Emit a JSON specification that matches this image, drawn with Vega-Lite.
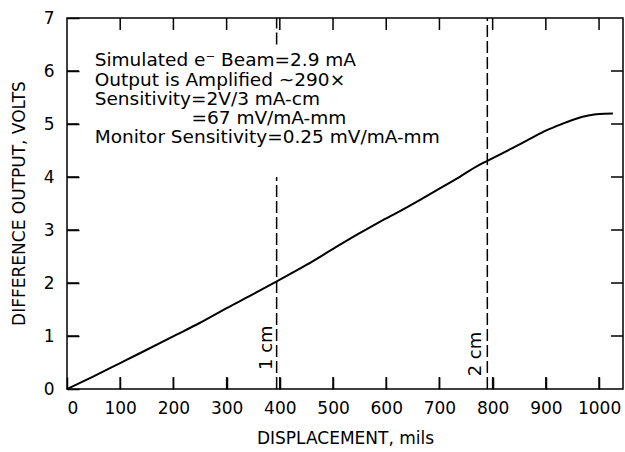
{
  "$schema": "https://vega.github.io/schema/vega-lite/v6.json",
  "width": 556,
  "height": 371,
  "autosize": "none",
  "padding": {"left": 67, "top": 18, "right": 2, "bottom": 63},
  "config": {
    "font": "DejaVu Sans",
    "view": {"stroke": "black", "strokeWidth": 1.5},
    "axis": {
      "grid": false,
      "domain": false,
      "offset": -12,
      "tickColor": "black",
      "tickSize": 12,
      "tickWidth": 1.5,
      "labelColor": "black",
      "labelFontSize": 17,
      "titleColor": "black",
      "titleFontSize": 17,
      "titleFontWeight": "normal"
    }
  },
  "datasets": {
    "curve": [
      {"x": 0, "y": 0},
      {"x": 50, "y": 0.24},
      {"x": 100, "y": 0.49},
      {"x": 136, "y": 0.67},
      {"x": 205, "y": 1.02},
      {"x": 250, "y": 1.25},
      {"x": 299, "y": 1.52},
      {"x": 350, "y": 1.79},
      {"x": 396, "y": 2.04},
      {"x": 450, "y": 2.34},
      {"x": 506, "y": 2.68},
      {"x": 550, "y": 2.94},
      {"x": 587, "y": 3.15},
      {"x": 630, "y": 3.38},
      {"x": 662, "y": 3.56},
      {"x": 700, "y": 3.78},
      {"x": 731, "y": 3.96},
      {"x": 775, "y": 4.23},
      {"x": 791, "y": 4.31},
      {"x": 838, "y": 4.55},
      {"x": 870, "y": 4.72},
      {"x": 901, "y": 4.88},
      {"x": 930, "y": 5.0},
      {"x": 957, "y": 5.1},
      {"x": 980, "y": 5.16},
      {"x": 1000, "y": 5.19},
      {"x": 1026, "y": 5.2}
    ],
    "rules": [
      {"x": 394, "y": 6.5, "y2": 7},
      {"x": 394, "y": 0, "y2": 4.0},
      {"x": 790, "y": 0, "y2": 7}
    ],
    "notes": [
      {"x": 52, "y": 6.21, "text": "Simulated e⁻ Beam=2.9 mA"},
      {"x": 52, "y": 5.83, "text": "Output is Amplified ~290×"},
      {"x": 52, "y": 5.47, "text": "Sensitivity=2V/3 mA-cm"},
      {"x": 234, "y": 5.11, "text": "=67 mV/mA-mm"},
      {"x": 52, "y": 4.75, "text": "Monitor Sensitivity=0.25 mV/mA-mm"}
    ],
    "marks": [
      {"x": 375, "y": 0.78, "text": "1 cm"},
      {"x": 768, "y": 0.66, "text": "2 cm"}
    ],
    "xt": [{"v": 100}, {"v": 200}, {"v": 300}, {"v": 400}, {"v": 500}, {"v": 600}, {"v": 700}, {"v": 800}, {"v": 900}, {"v": 1000}],
    "yt": [{"v": 1}, {"v": 2}, {"v": 3}, {"v": 4}, {"v": 5}, {"v": 6}]
  },
  "layer": [
    {
      "data": {"name": "curve"},
      "mark": {"type": "line", "color": "black", "strokeWidth": 2, "interpolate": "monotone"},
      "encoding": {
        "x": {
          "field": "x", "type": "quantitative",
          "scale": {"domain": [0, 1045], "nice": false},
          "axis": {
            "orient": "bottom",
            "values": [0, 100, 200, 300, 400, 500, 600, 700, 800, 900, 1000],
            "format": "d",
            "labelPadding": 19,
            "labelBaseline": "middle",
            "title": "DISPLACEMENT, mils",
            "titleX": 278,
            "titleY": 61,
            "titleBaseline": "middle",
            "titleAlign": "center"
          }
        },
        "y": {
          "field": "y", "type": "quantitative",
          "scale": {"domain": [0, 7], "nice": false},
          "axis": {
            "orient": "left",
            "values": [0, 1, 2, 3, 4, 5, 6, 7],
            "labelPadding": 13,
            "title": "DIFFERENCE OUTPUT, VOLTS",
            "titleX": -60,
            "titleY": 185,
            "titleAngle": 270,
            "titleBaseline": "middle",
            "titleAlign": "center"
          }
        }
      }
    },
    {
      "data": {"name": "rules"},
      "mark": {"type": "rule", "color": "black", "strokeWidth": 1.5, "strokeDash": [12, 4]},
      "encoding": {
        "x": {"field": "x", "type": "quantitative", "scale": {"domain": [0, 1045], "nice": false}, "axis": null},
        "y": {"field": "y", "type": "quantitative", "scale": {"domain": [0, 7], "nice": false}, "axis": null},
        "y2": {"field": "y2"}
      }
    },
    {
      "data": {"name": "xt"},
      "mark": {"type": "rule", "color": "black", "strokeWidth": 1.5},
      "encoding": {
        "x": {"field": "v", "type": "quantitative", "scale": {"domain": [0, 1045], "nice": false}, "axis": null},
        "y": {"datum": 0, "type": "quantitative", "scale": {"domain": [0, 7], "nice": false}, "axis": null},
        "y2": {"datum": 0.226}
      }
    },
    {
      "data": {"name": "xt"},
      "mark": {"type": "rule", "color": "black", "strokeWidth": 1.5},
      "encoding": {
        "x": {"field": "v", "type": "quantitative", "scale": {"domain": [0, 1045], "nice": false}, "axis": null},
        "y": {"datum": 6.774, "type": "quantitative", "scale": {"domain": [0, 7], "nice": false}, "axis": null},
        "y2": {"datum": 7}
      }
    },
    {
      "data": {"name": "yt"},
      "mark": {"type": "rule", "color": "black", "strokeWidth": 1.5},
      "encoding": {
        "y": {"field": "v", "type": "quantitative", "scale": {"domain": [0, 7], "nice": false}, "axis": null},
        "x": {"datum": 0, "type": "quantitative", "scale": {"domain": [0, 1045], "nice": false}, "axis": null},
        "x2": {"datum": 22.5}
      }
    },
    {
      "data": {"name": "yt"},
      "mark": {"type": "rule", "color": "black", "strokeWidth": 1.5},
      "encoding": {
        "y": {"field": "v", "type": "quantitative", "scale": {"domain": [0, 7], "nice": false}, "axis": null},
        "x": {"datum": 1022.5, "type": "quantitative", "scale": {"domain": [0, 1045], "nice": false}, "axis": null},
        "x2": {"datum": 1045}
      }
    },
    {
      "data": {"name": "notes"},
      "mark": {"type": "text", "align": "left", "baseline": "middle", "fontSize": 18.5, "color": "black"},
      "encoding": {
        "x": {"field": "x", "type": "quantitative", "scale": {"domain": [0, 1045], "nice": false}, "axis": null},
        "y": {"field": "y", "type": "quantitative", "scale": {"domain": [0, 7], "nice": false}, "axis": null},
        "text": {"field": "text"}
      }
    },
    {
      "data": {"name": "marks"},
      "mark": {"type": "text", "align": "center", "baseline": "middle", "angle": 270, "fontSize": 18, "color": "black"},
      "encoding": {
        "x": {"field": "x", "type": "quantitative", "scale": {"domain": [0, 1045], "nice": false}, "axis": null},
        "y": {"field": "y", "type": "quantitative", "scale": {"domain": [0, 7], "nice": false}, "axis": null},
        "text": {"field": "text"}
      }
    }
  ],
  "resolve": {"axis": {"x": "independent", "y": "independent"}}
}
